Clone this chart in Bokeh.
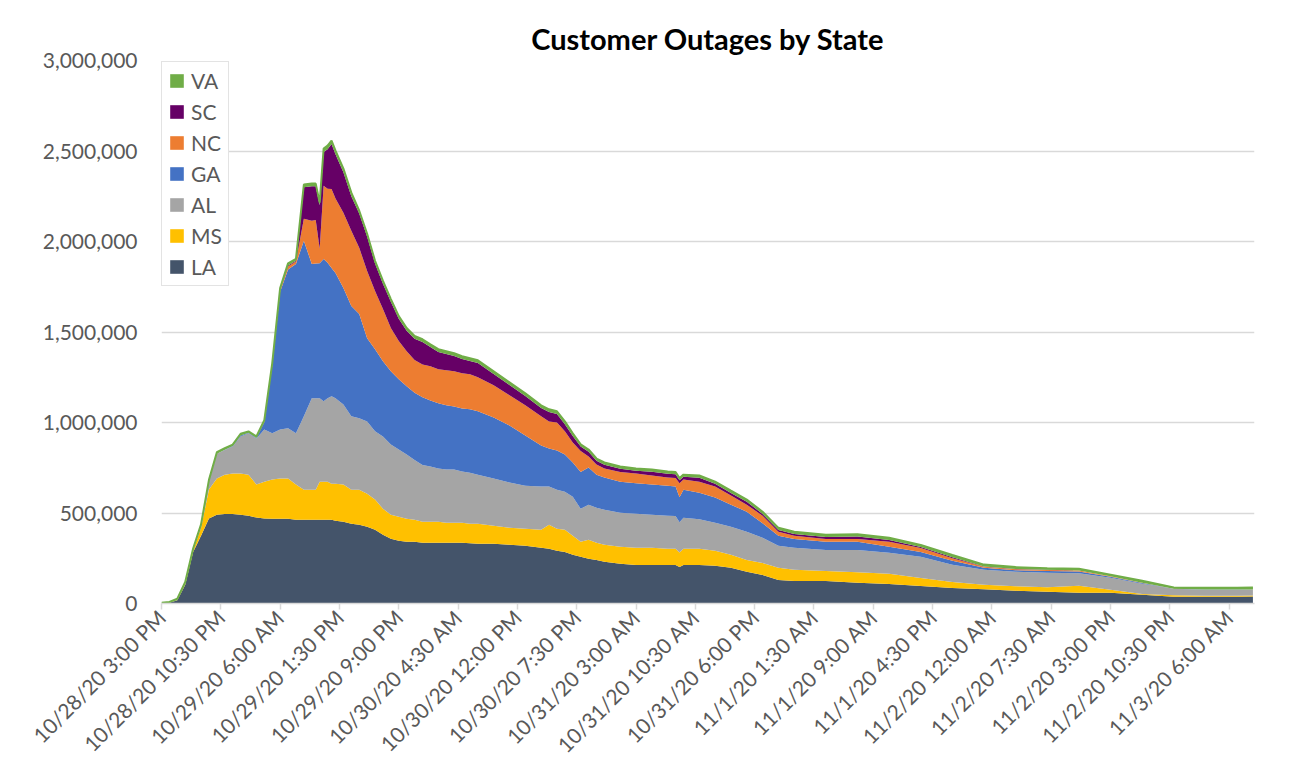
import math
from bokeh.plotting import figure
from bokeh.models import (ColumnDataSource, Range1d, FixedTicker, NumeralTickFormatter,
                          Legend, LegendItem)
from bokeh.embed import file_html
from bokeh.resources import INLINE

# ---------------- data (hours since 10/28/20 3:00 PM, outages in thousands) ----------------
hours = [0, 1, 2, 3, 4, 5, 6, 7, 8, 9, 10, 11, 12, 13, 14, 15, 16, 17, 18, 19, 19.5, 20, 20.5,
         21, 21.5, 22, 23, 24, 25, 26, 27, 28, 29, 30, 31, 32, 33, 34, 35, 36, 37, 38, 39, 40,
         42, 44, 46, 48, 49, 50, 51, 52, 53, 54, 55, 56, 58, 60, 62, 64, 65, 65.5, 66, 68, 70, 72,
         74, 76, 78, 80, 84, 88, 92, 96, 100, 104, 108, 112, 116, 120, 124, 128, 132, 136, 138]

la_k = [1, 4, 18, 103, 285, 374, 470, 490, 494, 494, 490, 485, 475, 470, 468, 468, 468, 463, 463,
        463, 463, 463, 463, 463, 463, 457, 452, 441, 435, 424, 407, 380, 358, 346, 341, 341, 335,
        335, 335, 335, 335, 335, 333, 330, 330, 324, 319, 308, 302, 291, 285, 269, 258, 247, 241,
        230, 219, 213, 213, 213, 213, 202, 213, 213, 208, 197, 175, 158, 130, 125, 125, 114, 108, 97,
        86, 79, 70, 65, 59, 59, 48, 37, 37, 37, 38]
ms_k = [0, 0, 2, 5, 8, 45, 160, 200, 218, 224, 228, 227, 182, 203, 217, 222, 222, 194, 166,
        166, 166, 210, 210, 210, 199, 205, 205, 188, 194, 183, 167, 144, 133, 133, 127, 122, 117,
        117, 117, 111, 111, 111, 108, 111, 100, 95, 94, 99, 133, 122, 122, 105, 83, 105, 94,
        94, 94, 95, 95, 89, 89, 80, 89, 89, 83, 72, 66, 66, 67, 61, 55, 58, 56, 44,
        33, 25, 25, 25, 39, 17, 5, 8, 6, 6, 6]
al_k = [0, 0, 0, 3, 3, 10, 45, 138, 136, 149, 205, 228, 255, 289, 255, 272, 278, 283, 405,
        505, 505, 461, 444, 461, 483, 472, 443, 405, 394, 399, 377, 399, 388, 372, 355, 330, 313,
        305, 294, 294, 294, 283, 282, 271, 260, 249, 238, 239, 211, 216, 211, 216, 183, 194, 194,
        194, 189, 188, 182, 183, 181, 167, 172, 164, 155, 155, 155, 139, 122, 122, 116, 124, 116, 117,
        95, 83, 81, 80, 69, 66, 56, 36, 33, 33, 33]
ga_k = [0, 0, 0, 0, 0, 0, 0, 0, 2, 3, 5, 3, 3, 40, 372, 760, 877, 936, 970,
        742, 745, 746, 787, 748, 709, 692, 643, 609, 576, 460, 454, 415, 404, 388, 377, 372, 374,
        365, 360, 355, 349, 349, 350, 350, 338, 316, 277, 227, 210, 216, 205, 189, 202, 205, 183,
        178, 171, 169, 167, 166, 164, 138, 155, 146, 139, 122, 111, 80, 55, 49, 45, 45, 33, 27,
        22, 11, 8, 10, 10, 6, 4, 1, 1, 1, 1]
nc_k = [0, 0, 0, 0, 0, 0, 0, 0, 0, 0, 0, 0, 0, 2, 4, 8, 17, 13, 122,
        239, 240, 80, 404, 410, 436, 411, 416, 416, 366, 371, 322, 289, 239, 211, 194, 180, 182,
        189, 188, 194, 194, 194, 193, 188, 178, 166, 167, 161, 150, 155, 128, 111, 116, 61, 56,
        50, 53, 53, 50, 45, 47, 78, 56, 61, 61, 50, 39, 42, 22, 17, 16, 16, 28, 21,
        14, 5, 5, 5, 5, 2, 2, 0, 0, 0, 0]
sc_k = [0, 0, 0, 0, 0, 0, 0, 0, 0, 0, 0, 0, 0, 0, 1, 3, 5, 5, 174,
        190, 186, 240, 186, 218, 248, 245, 224, 191, 190, 191, 151, 140, 145, 123, 113, 118, 124,
        106, 96, 90, 85, 79, 74, 79, 62, 57, 51, 46, 52, 47, 40, 35, 25, 27, 21,
        21, 19, 16, 21, 21, 20, 16, 15, 22, 15, 15, 16, 10, 10, 10, 11, 13, 10, 6,
        6, 2, 2, 1, 1, 0, 0, 0, 0, 0, 0]
va_k = [3, 5, 7, 8, 8, 8, 8, 8, 8, 8, 10, 8, 8, 9, 10, 10, 12, 10, 15,
        15, 15, 15, 20, 20, 20, 20, 20, 20, 15, 15, 15, 15, 15, 15, 15, 15, 15,
        15, 15, 15, 15, 15, 15, 15, 15, 15, 15, 15, 15, 15, 15, 15, 12, 12, 12,
        12, 12, 12, 12, 12, 12, 12, 12, 12, 12, 12, 12, 12, 12, 12, 12, 12, 12, 12,
        12, 10, 10, 9, 9, 9, 11, 7, 10, 10, 10]

states = ["LA", "MS", "AL", "GA", "NC", "SC", "VA"]
colors = ["#44546A", "#FFC000", "#A5A5A5", "#4472C4", "#ED7D31", "#660066", "#70AD47"]

tick_labels = ["10/28/20 3:00 PM", "10/28/20 10:30 PM", "10/29/20 6:00 AM", "10/29/20 1:30 PM",
               "10/29/20 9:00 PM", "10/30/20 4:30 AM", "10/30/20 12:00 PM", "10/30/20 7:30 PM",
               "10/31/20 3:00 AM", "10/31/20 10:30 AM", "10/31/20 6:00 PM", "11/1/20 1:30 AM",
               "11/1/20 9:00 AM", "11/1/20 4:30 PM", "11/2/20 12:00 AM", "11/2/20 7:30 AM",
               "11/2/20 3:00 PM", "11/2/20 10:30 PM", "11/3/20 6:00 AM"]
y_ticks = [0, 500000, 1000000, 1500000, 2000000, 2500000, 3000000]

series = [la_k, ms_k, al_k, ga_k, nc_k, sc_k, va_k]
for s in series:
    assert len(s) == len(hours), len(s)

# x in minutes since start
minutes = [int(round(h * 60)) for h in hours]
data = {"m": minutes}
for name, s in zip(states, series):
    data[name] = [v * 1000 for v in s]
data["total"] = [sum(vals) * 1000 for vals in zip(*series)]
src = ColumnDataSource(data)

FONT = "Lato"
GRAY_TXT = "#595959"
GRID = "#d9d9d9"

p = figure(width=1284, height=770, output_backend="svg", toolbar_location=None,
           x_range=Range1d(0, 138.2 * 60), y_range=Range1d(0, 3000000),
           min_border_left=161, min_border_right=30, min_border_top=60, min_border_bottom=167)
p.outline_line_color = None
p.background_fill_color = "white"
p.border_fill_color = "white"

renderers = p.varea_stack(stackers=states, x="m", color=colors, source=src)
# VA series outline along the top of the stack
p.line("m", "total", source=src, line_color=colors[-1], line_width=2)

# title
p.title.text = "Customer Outages by State"
p.title.align = "center"
p.title.text_font = FONT
p.title.text_font_size = "29px"
p.title.text_font_style = "bold"
p.title.text_color = "black"
p.title.standoff = 9

# y axis
p.yaxis.ticker = FixedTicker(ticks=y_ticks)
p.yaxis.formatter = NumeralTickFormatter(format="0,0")
p.yaxis.axis_line_color = None
p.yaxis.major_tick_line_color = None
p.yaxis.minor_tick_line_color = None
p.yaxis.major_tick_out = 0
p.yaxis.major_tick_in = 0
p.yaxis.major_label_standoff = 24
p.yaxis.major_label_text_font = FONT
p.yaxis.major_label_text_font_size = "21px"
p.yaxis.major_label_text_color = GRAY_TXT

# x axis
x_ticks = [450 * i for i in range(len(tick_labels))]
p.xaxis.ticker = FixedTicker(ticks=x_ticks)
p.xaxis.major_label_overrides = {t: lab for t, lab in zip(x_ticks, tick_labels)}
p.xaxis.major_label_orientation = math.pi / 4
p.xaxis.axis_line_color = GRID
p.xaxis.axis_line_width = 1.5
p.xaxis.major_tick_line_color = GRID
p.xaxis.major_tick_line_width = 1.5
p.xaxis.major_tick_out = 6
p.xaxis.major_tick_in = 0
p.xaxis.minor_tick_line_color = None
p.xaxis.major_label_standoff = 4
p.xaxis.major_label_text_font = FONT
p.xaxis.major_label_text_font_size = "21px"
p.xaxis.major_label_text_color = GRAY_TXT

# grid
p.xgrid.grid_line_color = None
p.ygrid.grid_line_color = GRID
p.ygrid.grid_line_width = 1.5

# legend (VA on top)
items = [LegendItem(label=n, renderers=[r]) for n, r in reversed(list(zip(states, renderers)))]
legend = Legend(items=items, location=(0, 317))
legend.label_text_font = FONT
legend.label_text_font_size = "21px"
legend.label_text_color = GRAY_TXT
legend.glyph_width = 17
legend.glyph_height = 17
legend.label_height = 25
legend.spacing = 6
legend.padding = 6
legend.margin = 0
legend.label_standoff = 6
legend.border_line_color = "#c8c8c8"
legend.border_line_width = 1.5
legend.background_fill_color = "white"
legend.background_fill_alpha = 1
p.add_layout(legend)

open("out.html", "w").write(file_html(p, INLINE))
